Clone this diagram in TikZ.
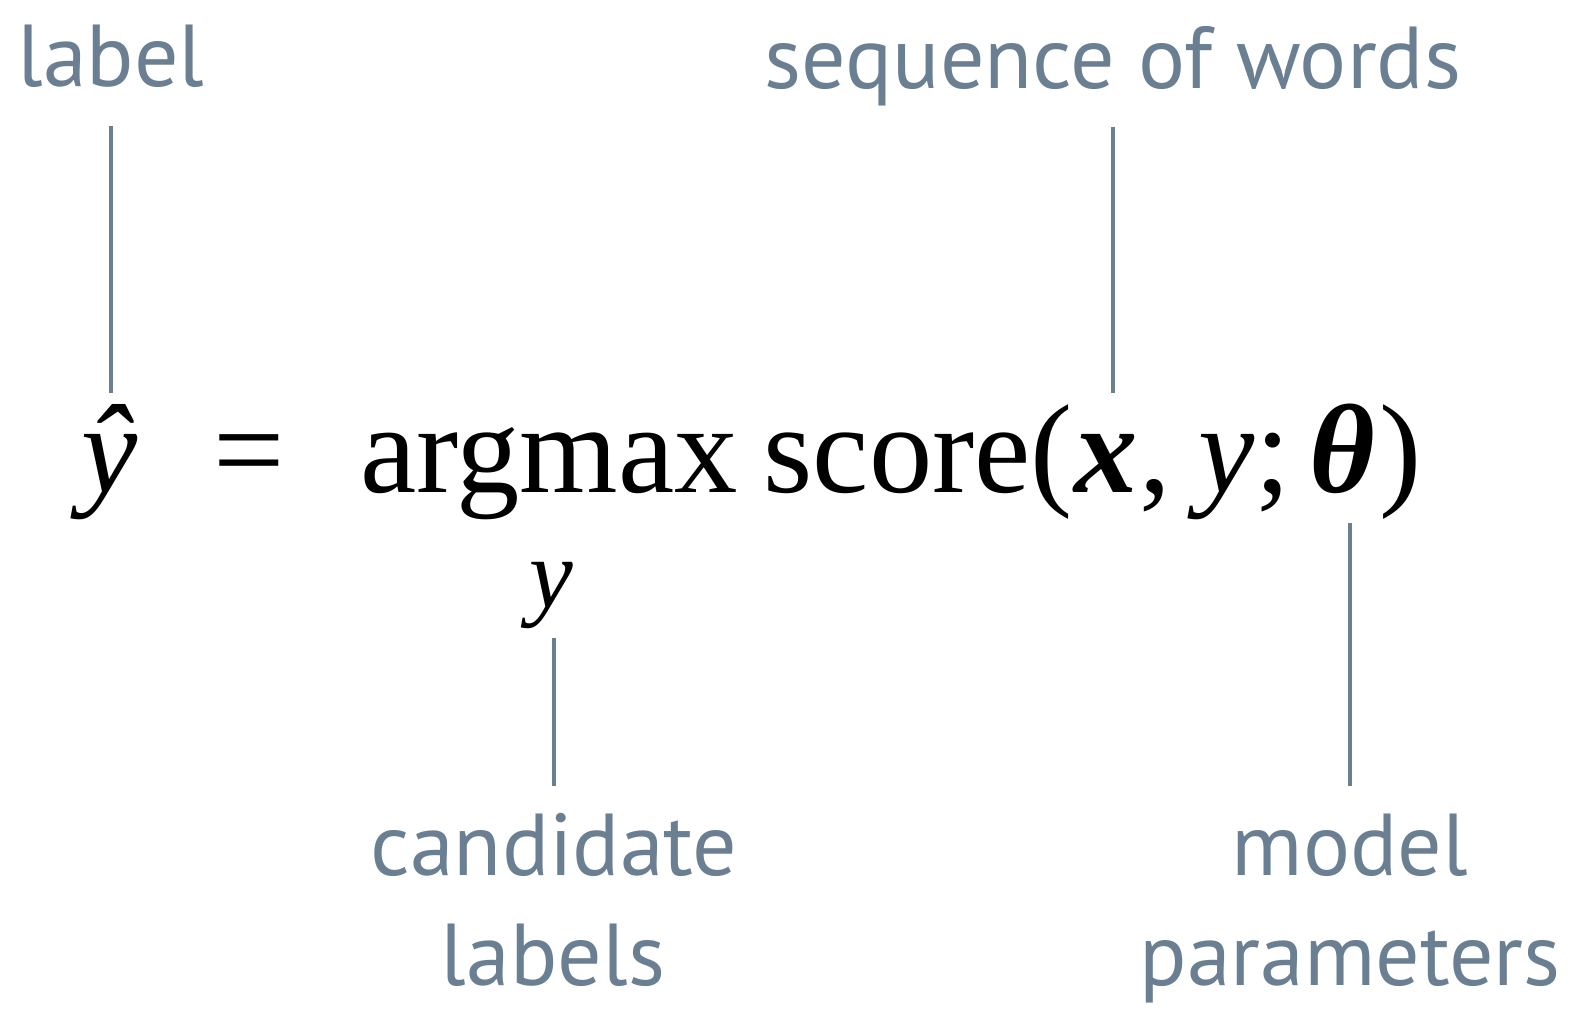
\documentclass[tikz,border=0pt]{standalone}
\usepackage{fontspec}
\setmainfont{Liberation Serif}
\newfontfamily\lblfont{PT Sans}
\usetikzlibrary{calc}
\definecolor{slate}{HTML}{6B7F92}

\begin{document}
\begin{tikzpicture}[x=0.01cm,y=-0.01cm,
  every node/.style={inner sep=0pt,anchor=base},
  lbl/.style={font=\lblfont\fontsize{25}{30}\selectfont,text=slate},
  toplbl/.style={lbl,text depth=10.8pt},
  botlbl/.style={lbl,text height=25pt},
  eq/.style={font=\fontsize{36}{40}\selectfont,text height=28pt,text depth=8.5pt},
  subvar/.style={font=\fontsize{28}{30}\selectfont,text depth=8.5pt},
  conn/.style={draw=slate,line width=1.15pt}]
  \useasboundingbox (0,0) rectangle (1572,1009);
  % labels above
  \node[toplbl] (lab) at (111,87) {label};
  \node[toplbl] (seq) at (1113,88) {sequence of words};
  % the equation
  \node[eq] (yhat) at (110,492) {\itshape ŷ};
  \node[eq] (eqsign) at (249,492) {=};
  \node[eq] (argmax) at (549,492) {argmax};
  \node[subvar] (sub) at (551,607) {\itshape y};
  \node[eq,anchor=base west] (score) at (763,492) {score(};
  \node[eq,anchor=base west] (xvar) at (score.base east) {\bfseries\itshape x};
  \node[eq,anchor=base west] (yvar) at (xvar.base east) {,\kern8pt\textit{y};\kern5pt};
  \node[eq,anchor=base west] (theta) at (yvar.base east) {\bfseries\itshape θ};
  \node[eq,anchor=base west] (close) at (theta.base east) {\kern1pt)};
  % labels below
  \node[botlbl] (cand) at (554,875) {candidate};
  \node[lbl] (candb) at (553,985) {labels};
  \node[botlbl] (mod) at (1350,875) {model};
  \node[lbl] (modb) at (1350,985) {parameters};
  % connectors
  \draw[conn] (lab.south) -- (lab.south |- yhat.north);
  \draw[conn] (seq.south) -- (seq.south |- xvar.north);
  \draw[conn] (cand.north |- sub.south) -- (cand.north);
  \draw[conn] (mod.north |- theta.south) -- (mod.north);
\end{tikzpicture}
\end{document}
